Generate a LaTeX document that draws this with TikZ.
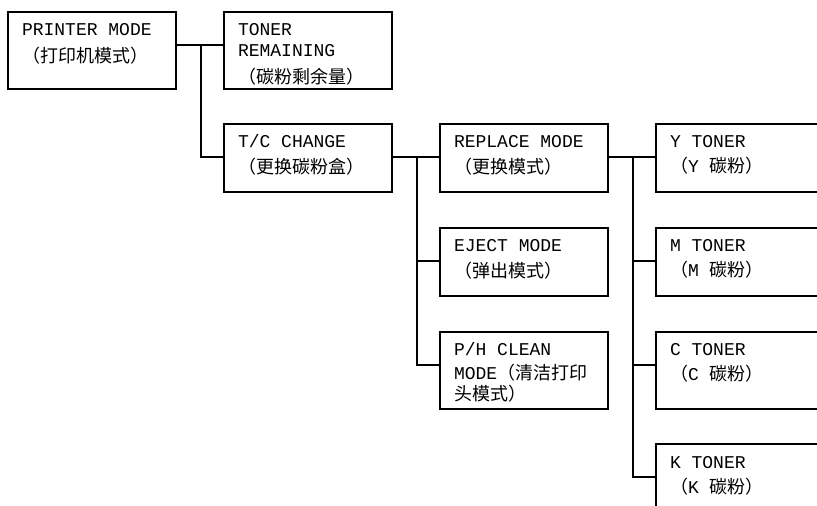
\documentclass[tikz,border=0pt]{standalone}
\usepackage{fontspec}
\setmonofont{Liberation Mono}
\newfontfamily\cjk{Noto Sans CJK SC}
\usepackage{tikz}
\newcommand{\zh}[1]{{\cjk #1}}
\tikzset{
  menubox/.style={draw, line width=1pt, anchor=north west,
    inner xsep=7pt, inner ysep=6pt, text width=70pt, text height=6pt,
    font=\ttfamily\fontsize{9}{10.5}\selectfont,
    execute at begin node={\spaceskip=5.4pt\relax}},
  tallbox/.style={menubox, text depth=20.5pt},
  shortbox/.style={menubox, text depth=16pt},
  link/.style={line width=1pt},
}

\begin{document}
\begin{tikzpicture}[x=0.5pt, y=-0.5pt]
\useasboundingbox (0,0) rectangle (817,506);
\clip (0,0) rectangle (817,506);

% first two levels
\node[tallbox] (printer) at (7,11) {PRINTER MODE\\[3pt]\zh{（打印机模式）}};
\node[tallbox] (remaining) at (223,11) {TONER\\REMAINING\\[3pt]\zh{（碳粉剩余量）}};
\node[shortbox] (tcchange) at (223,123) {T/C CHANGE\\[2.5pt]\zh{（更换碳粉盒）}};

% cartridge change modes
\node[shortbox] (replace) at (439,123) {REPLACE MODE\\[2.5pt]\zh{（更换模式）}};
\node[shortbox] (eject) at (439,227) {EJECT MODE\\[2.5pt]\zh{（弹出模式）}};
\node[tallbox] (phclean) at (439,331) {P/H CLEAN\\[1.5pt]MODE\zh{（清洁打印}\\\zh{头模式）}};

% toner colours
\node[shortbox] (ytoner) at (655,123) {Y TONER\\[2pt]\zh{（}Y \zh{碳粉）}};
\node[shortbox] (mtoner) at (655,227) {M TONER\\[2pt]\zh{（}M \zh{碳粉）}};
\node[tallbox] (ctoner) at (655,331) {C TONER\\[2pt]\zh{（}C \zh{碳粉）}};
\node[tallbox] (ktoner) at (655,443) {K TONER\\[2pt]\zh{（}K \zh{碳粉）}};

% connectors
\foreach \sub in {remaining,tcchange}
  \draw[link] ([yshift=-17pt]printer.north east) -- ++(12pt,0) |- ([yshift=-17pt]\sub.north west);
\foreach \sub in {replace,eject,phclean}
  \draw[link] ([yshift=-17pt]tcchange.north east) -- ++(12pt,0) |- ([yshift=-17pt]\sub.north west);
\foreach \sub in {ytoner,mtoner,ctoner,ktoner}
  \draw[link] ([yshift=-17pt]replace.north east) -- ++(12pt,0) |- ([yshift=-17pt]\sub.north west);
\end{tikzpicture}
\end{document}
